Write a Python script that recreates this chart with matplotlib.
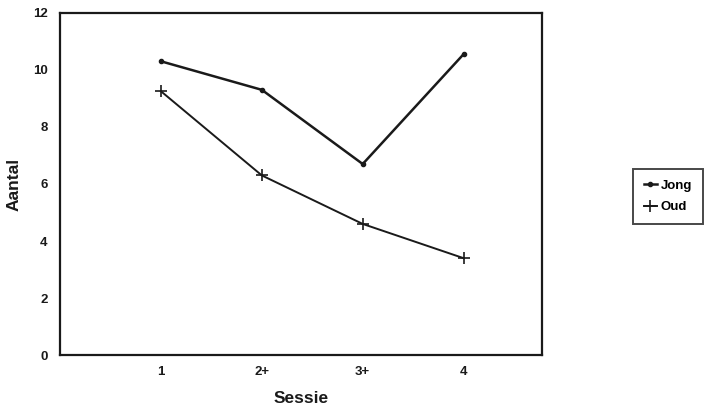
import matplotlib
matplotlib.use("Agg")
import matplotlib.pyplot as plt

SESSIONS = ["1", "2+", "3+", "4"]
JONG = [10.3, 9.3, 6.7, 10.55]
OUD = [9.25, 6.3, 4.6, 3.4]
Y_TICKS = [0, 2, 4, 6, 8, 10, 12]

INK = "#1a1a1a"
FONT = "Liberation Sans"


def main():
    fig = plt.figure(figsize=(7.07, 4.13), dpi=100, facecolor="white")
    ax = fig.add_axes([0.085, 0.140, 0.682, 0.829])

    x = list(range(1, len(SESSIONS) + 1))
    ax.plot(x, JONG, color=INK, linewidth=1.8, marker="o", markersize=3, label="Jong")
    ax.plot(x, OUD, color=INK, linewidth=1.4, marker="+", markersize=9,
            markeredgewidth=1.2, label="Oud")

    ax.set_xlim(0, 4.78)
    ax.set_ylim(0, 12)
    ax.set_xticks(x, SESSIONS)
    ax.set_yticks(Y_TICKS)
    ax.tick_params(axis="both", length=0, labelsize=9.5, colors=INK)
    ax.tick_params(axis="x", pad=8)
    ax.tick_params(axis="y", pad=9)
    for lbl in ax.get_xticklabels() + ax.get_yticklabels():
        lbl.set_fontfamily(FONT)
        lbl.set_fontweight("bold")

    for spine in ax.spines.values():
        spine.set_color(INK)
        spine.set_linewidth(1.6)

    ax.set_ylabel("Aantal", fontsize=12.5, fontfamily=FONT, fontweight="bold",
                  color=INK, labelpad=8)
    ax.set_xlabel("Sessie", fontsize=12.5, fontfamily=FONT, fontweight="bold",
                  color=INK, labelpad=9)

    leg = fig.legend(loc="upper left", bbox_to_anchor=(633 / 707, 1 - 169 / 413),
                     frameon=True, fancybox=False, handlelength=1.0,
                     handletextpad=0.3, borderpad=0.8, labelspacing=0.7,
                     borderaxespad=0,
                     prop={"family": FONT, "weight": "bold", "size": 9.5})
    leg.get_frame().set_edgecolor(INK)
    leg.get_frame().set_linewidth(1.4)

    fig.savefig("out.png", dpi=100, facecolor="white")
    plt.close(fig)


if __name__ == "__main__":
    main()
